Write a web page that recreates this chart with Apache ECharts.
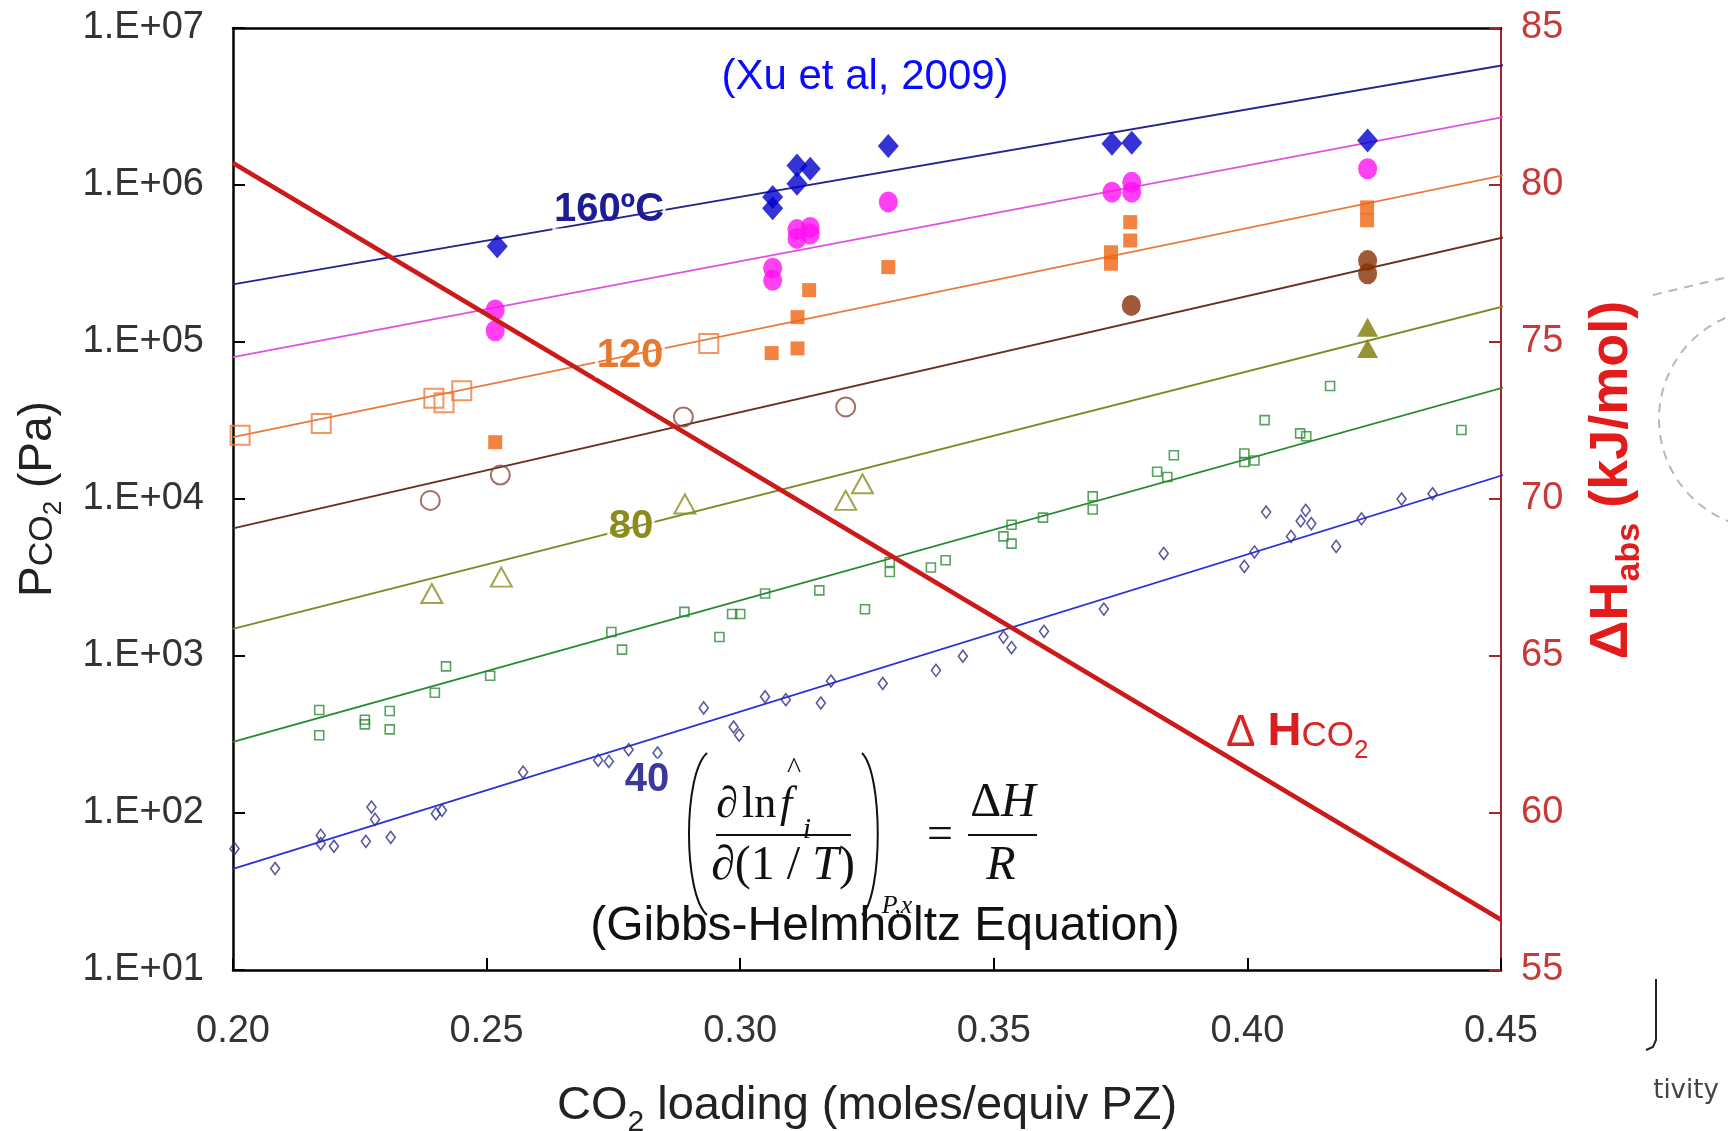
<!DOCTYPE html>
<html>
<head>
<meta charset="utf-8">
<script src="https://cdn.jsdelivr.net/npm/echarts@6/dist/echarts.min.js"></script>
<style>
  html, body { margin: 0; padding: 0; background: #ffffff; }
  #chart { width: 1728px; height: 1131px; }
</style>
</head>
<body>
<div id="chart"></div>
<script>
// ---- axis tick labels ----
const xTickLabels = ['0.20', '0.25', '0.30', '0.35', '0.40', '0.45'];
const pTickLabels = ['1.E+01', '1.E+02', '1.E+03', '1.E+04', '1.E+05', '1.E+06', '1.E+07'];
const dhTickLabels = ['55', '60', '65', '70', '75', '80', '85'];

// ---- fitted isotherms: P_CO2 (Pa) at the two ends of each line ----
const fitLoading = [0.20, 0.4525];
const fit160 = [2.33e5, 5.95e6];
const fit140 = [8.0e4, 2.79e6];
const fit120 = [2.48e4, 1.19e6];
const fit100 = [6.5e3, 4.8e5];
const fit80 = [1.49e3, 1.75e5];
const fit60 = [2.84e2, 5.35e4];
const fit40 = [44, 1.49e4];

// ---- heat of absorption (kJ/mol) ----
const dhLoading = [0.20, 0.45];
const dhValues = [80.7, 56.6];

// ---- measured points [loading, P_CO2 (Pa)] ----
const pts160 = [[0.2521, 4.08e5], [0.3064, 8.4e5], [0.3064, 7.1e5], [0.3112, 1.02e6], [0.3112, 1.33e6],
  [0.3138, 1.27e6], [0.3292, 1.77e6], [0.3733, 1.83e6], [0.3772, 1.86e6], [0.4237, 1.92e6]];
const pts140 = [[0.2517, 1.6e5], [0.2517, 1.18e5], [0.3064, 2.95e5], [0.3064, 2.47e5], [0.3112, 4.57e5],
  [0.3112, 5.2e5], [0.3138, 5.37e5], [0.3138, 4.88e5], [0.3292, 7.8e5], [0.3733, 9.0e5],
  [0.3772, 1.04e6], [0.3772, 9.0e5], [0.4237, 1.27e6]];
const pts120open = [[0.2014, 2.55e4], [0.2174, 3.03e4], [0.2396, 4.39e4], [0.2416, 4.1e4],
  [0.2451, 4.9e4], [0.2938, 9.8e4]];
const pts120 = [[0.2517, 2.3e4], [0.3062, 8.5e4], [0.3113, 9.1e4], [0.3113, 1.44e5], [0.3136, 2.14e5],
  [0.3292, 3.0e5], [0.3731, 3.15e5], [0.3731, 3.73e5], [0.3769, 4.43e5], [0.3769, 5.8e5],
  [0.4236, 5.96e5], [0.4236, 7.2e5]];
const pts100open = [[0.2389, 9.8e3], [0.2527, 1.42e4], [0.2888, 3.33e4], [0.3208, 3.86e4]];
const pts100 = [[0.3771, 1.71e5], [0.4237, 3.3e5], [0.4237, 2.72e5]];
const pts80open = [[0.2392, 2.5e3], [0.2529, 3.18e3], [0.2891, 9.3e3], [0.3208, 9.8e3], [0.3241, 1.25e4]];
const pts80 = [[0.4237, 1.24e5], [0.4237, 9.1e4]];
const pts60 = [[0.2170, 453], [0.2170, 313], [0.2260, 393], [0.2260, 367], [0.2309, 446], [0.2309, 341],
  [0.2398, 583], [0.2420, 859], [0.2507, 748], [0.2746, 1422], [0.2767, 1098], [0.2890, 1910],
  [0.2959, 1320], [0.2984, 1850], [0.3000, 1850], [0.3049, 2500], [0.3156, 2620], [0.3246, 1985],
  [0.3295, 3970], [0.3295, 3430], [0.3376, 3660], [0.3405, 4070], [0.3519, 5780], [0.3535, 5200],
  [0.3535, 6860], [0.3597, 7610], [0.3695, 1.04e4], [0.3695, 8570], [0.3822, 1.49e4], [0.3842, 1.38e4],
  [0.3855, 1.9e4], [0.3994, 1.95e4], [0.3994, 1.72e4], [0.4014, 1.76e4], [0.4034, 3.18e4],
  [0.4104, 2.62e4], [0.4116, 2.51e4], [0.4163, 5.24e4], [0.4422, 2.75e4]];
const pts40 = [[0.2003, 59.3], [0.2083, 44.3], [0.2173, 72], [0.2173, 63.8], [0.2199, 61.4], [0.2262, 66],
  [0.2273, 109], [0.2280, 91], [0.2311, 70], [0.2400, 99], [0.2412, 104], [0.2572, 182], [0.2720, 217],
  [0.2741, 213], [0.2780, 253], [0.2837, 241], [0.2928, 467], [0.2987, 353], [0.2998, 313], [0.3049, 550],
  [0.3090, 527], [0.3159, 502], [0.3179, 693], [0.3281, 668], [0.3386, 811], [0.3439, 996], [0.3519, 1320],
  [0.3535, 1130], [0.3599, 1435], [0.3717, 1990], [0.3835, 4500], [0.3994, 3720], [0.4014, 4600],
  [0.4037, 8260], [0.4086, 5780], [0.4105, 7240], [0.4115, 8470], [0.4126, 6970], [0.4175, 4990],
  [0.4225, 7480], [0.4304, 10000], [0.4365, 10800]];

const SANS = '"Liberation Sans", Arial, sans-serif';
const SERIF = '"Liberation Serif", "Times New Roman", serif';

function pairs(xs, ys) { return xs.map((x, i) => [x, ys[i]]); }

function fitLine(values, color) {
  return { type: 'line', data: pairs(fitLoading, values), symbol: 'none', clip: false, silent: true,
    lineStyle: { color: color, width: 1.8 }, z: 2 };
}

function points(data, symbol, size, color, hollowWidth) {
  return { type: 'scatter', data: data, symbol: symbol, symbolSize: size, silent: true, z: 3,
    itemStyle: hollowWidth
      ? { color: 'rgba(255,255,255,0)', borderColor: color, borderWidth: hollowWidth }
      : { color: color } };
}

// rich-text run; bottom padding lifts a run above the subscript baseline
function run(size, color, lift, extra) {
  return Object.assign({ fontSize: size, fontFamily: SANS, color: color, fill: color,
    verticalAlign: 'bottom', padding: [0, 0, lift, 0] }, extra || {});
}

const chart = echarts.init(document.getElementById('chart'), null, { renderer: 'canvas' });

const option = {
  backgroundColor: '#ffffff',
  animation: false,
  grid: { left: 233, right: 227, top: 28, bottom: 161, outerBoundsMode: 'none', containLabel: false },
  xAxis: [{
    type: 'value', min: 0.20, max: 0.45, interval: 0.05,
    axisLine: { show: true, onZero: false, lineStyle: { color: '#000', width: 2.5 } },
    axisTick: { show: true, inside: true, length: 12, lineStyle: { color: '#000', width: 2 } },
    splitLine: { show: false },
    axisLabel: { margin: 43, fontSize: 38, color: '#333', fontFamily: SANS,
      formatter: v => xTickLabels[Math.round((v - 0.20) / 0.05)] },
    name: '{a|CO}{s|2}{a| loading (moles/equiv PZ)}',
    nameLocation: 'middle', nameGap: 110,
    nameTextStyle: { fontFamily: SANS, color: '#222', lineHeight: 58,
      rich: {
        a: run(47, '#222', 8, { lineHeight: 58 }),
        s: run(30, '#222', 0, { lineHeight: 58 })
      } }
  }, {
    type: 'value', position: 'top', min: 0.20, max: 0.45, interval: 0.05,
    axisLine: { show: true, onZero: false, lineStyle: { color: '#000', width: 2.5 } },
    axisTick: { show: false }, axisLabel: { show: false }, splitLine: { show: false }
  }],
  yAxis: [{
    type: 'log', logBase: 10, min: 10, max: 1e7, splitNumber: 6,
    axisLine: { show: true, onZero: false, lineStyle: { color: '#000', width: 2.5 } },
    axisTick: { show: true, inside: true, length: 12, lineStyle: { color: '#000', width: 2 } },
    splitLine: { show: false },
    axisLabel: { margin: 29, fontSize: 38, color: '#333', fontFamily: SANS,
      formatter: v => pTickLabels[Math.round(Math.log10(v)) - 1] },
    name: '{p|P}{c|CO}{s|2}{p| (Pa)}',
    nameLocation: 'middle', nameGap: 161, nameRotate: 90,
    nameTextStyle: { fontFamily: SANS, color: '#222', lineHeight: 58,
      rich: {
        p: run(46, '#222', 10, { lineHeight: 58 }),
        c: run(34, '#222', 12, { lineHeight: 58 }),
        s: run(26, '#222', 5, { lineHeight: 58 })
      } }
  }, {
    type: 'value', position: 'right', min: 55, max: 85, interval: 5,
    axisLine: { show: true, onZero: false, lineStyle: { color: '#a0282a', width: 2 } },
    axisTick: { show: true, inside: true, length: 12, lineStyle: { color: '#a0282a', width: 2 } },
    splitLine: { show: false },
    axisLabel: { margin: 20, fontSize: 38, color: '#c83a3a', fontFamily: SANS,
      formatter: v => dhTickLabels[Math.round((v - 55) / 5)] },
    name: '{h|ΔH}{s|abs}{h| (kJ/mol)}',
    nameLocation: 'middle', nameGap: 82, nameRotate: 90,
    nameTextStyle: { fontFamily: SANS, color: '#e31b1b', lineHeight: 64, padding: [0, 0, 0, 38],
      rich: {
        h: run(54, '#e31b1b', 8, { lineHeight: 64, fontWeight: 'bold' }),
        s: run(34, '#e31b1b', 0, { lineHeight: 64, fontWeight: 'bold' })
      } }
  }],
  series: [
    fitLine(fit160, '#24248e'),
    fitLine(fit140, '#e050e0'),
    fitLine(fit120, '#ea7a3c'),
    fitLine(fit100, '#6a2e20'),
    fitLine(fit80, '#7c8a22'),
    fitLine(fit60, '#248a30'),
    fitLine(fit40, '#2a30d8'),

    points(pts160, 'diamond', [21, 24], '#0000cc'),
    points(pts140, 'circle', [19, 21], '#ff10f0'),
    points(pts120open, 'rect', 19, '#f07c3c', 2),
    points(pts120, 'rect', 14, '#f06410'),
    points(pts100open, 'circle', 19, '#8a4a3c', 2),
    points(pts100, 'circle', [19, 21], '#873004'),
    points(pts80open, 'triangle', [21, 19], '#8a8c22', 2),
    points(pts80, 'triangle', [21, 19], '#7a7a04'),
    points(pts60, 'rect', 9, '#2e8a36', 1.6),
    points(pts40, 'diamond', [9, 12], '#2e2e86', 1.6),

    { type: 'line', yAxisIndex: 1, data: pairs(dhLoading, dhValues), symbol: 'none', silent: true,
      lineStyle: { color: '#cc1a1a', width: 4.5 }, z: 6 }
  ]
};

chart.setOption(option);

// ---- annotations, equation and surrounding artwork ----
const labelStroke = { textBorderColor: 'rgba(255,255,255,0.85)', textBorderWidth: 3 };
function label(text, x, y, size, color, extra) {
  return { type: 'text', x: x, y: y, z: 20, silent: true,
    style: Object.assign({ text: text, fontSize: size, fontFamily: SANS, fill: color,
      align: 'center', verticalAlign: 'middle' }, extra || {}) };
}
function serif(text, x, y, size, italic, align) {
  return label(text, x, y, size, '#111', { fontFamily: SERIF, fontStyle: italic ? 'italic' : 'normal',
    align: align || 'center' });
}

const graphics = [
  label('(Xu et al, 2009)', 865, 77, 42, '#0a0aff'),
  label('160ºC', 609, 210, 40, '#1c1c96', Object.assign({ fontWeight: 'bold' }, labelStroke)),
  label('120', 630, 356, 40, '#e8782e', Object.assign({ fontWeight: 'bold' }, labelStroke)),
  label('80', 631, 527, 40, '#8c8c1c', Object.assign({ fontWeight: 'bold' }, labelStroke)),
  label('40', 647, 780, 40, '#3a3a98', Object.assign({ fontWeight: 'bold' }, labelStroke)),
  {
    type: 'text', x: 1226, y: 736, z: 20, silent: true,
    style: {
      text: '{d|Δ }{h|H}{c|CO}{s|2}', align: 'left', verticalAlign: 'middle', fill: '#dc2424', lineHeight: 56,
      rich: {
        d: run(44, '#dc2424', 8, { lineHeight: 56 }),
        h: run(47, '#d81e1e', 8, { lineHeight: 56, fontWeight: 'bold' }),
        c: run(35, '#dc2424', 10, { lineHeight: 56 }),
        s: run(26, '#dc2424', 0, { lineHeight: 56 })
      }
    }
  },

  // Gibbs-Helmholtz relation
  { type: 'bezierCurve', z: 20, silent: true,
    shape: { x1: 707, y1: 753, cpx1: 683, cpy1: 774, cpx2: 683, cpy2: 894, x2: 707, y2: 915 },
    style: { stroke: '#111', lineWidth: 2, fill: null } },
  { type: 'bezierCurve', z: 20, silent: true,
    shape: { x1: 862, y1: 753, cpx1: 883, cpy1: 774, cpx2: 883, cpy2: 894, x2: 862, y2: 915 },
    style: { stroke: '#111', lineWidth: 2, fill: null } },
  serif('∂', 716, 805, 44, false, 'left'),
  serif('ln', 742, 805, 44, false, 'left'),
  serif('f', 780, 805, 44, true, 'left'),
  serif('^', 794, 770, 30, false),
  serif('i', 807, 830, 30, true),
  { type: 'line', z: 20, silent: true, shape: { x1: 716, y1: 835, x2: 851, y2: 835 },
    style: { stroke: '#111', lineWidth: 2 } },
  { type: 'text', x: 783, y: 866, z: 20, silent: true,
    style: { text: '{u|∂(1 / }{i|T}{u|)}', align: 'center', verticalAlign: 'middle',
      rich: { u: { fontSize: 48, fontFamily: SERIF, fill: '#111' },
              i: { fontSize: 48, fontFamily: SERIF, fontStyle: 'italic', fill: '#111' } } } },
  serif('P,x', 897, 906, 26, true),
  serif('=', 940, 836, 46, false),
  { type: 'text', x: 1003, y: 803, z: 20, silent: true,
    style: { text: '{u|Δ}{i|H}', align: 'center', verticalAlign: 'middle',
      rich: { u: { fontSize: 48, fontFamily: SERIF, fill: '#111' },
              i: { fontSize: 48, fontFamily: SERIF, fontStyle: 'italic', fill: '#111' } } } },
  { type: 'line', z: 20, silent: true, shape: { x1: 968, y1: 835, x2: 1037, y2: 835 },
    style: { stroke: '#111', lineWidth: 2 } },
  serif('R', 1001, 866, 48, true),
  label('(Gibbs-Helmholtz Equation)', 885, 927, 48, '#111'),

  // slide artwork beside the chart
  { type: 'circle', z: 1, silent: true, shape: { cx: 1769, cy: 419, r: 110 },
    style: { stroke: '#b8b8b8', lineWidth: 2, lineDash: [9, 7], fill: null } },
  { type: 'line', z: 1, silent: true, shape: { x1: 1653, y1: 295, x2: 1728, y2: 277 },
    style: { stroke: '#b8b8b8', lineWidth: 2, lineDash: [9, 7] } },
  { type: 'polyline', z: 1, silent: true,
    shape: { points: [[1656, 979], [1656, 1040], [1653, 1047], [1646, 1050]] },
    style: { stroke: '#222', lineWidth: 2, fill: null } },
  label('tivity', 1686, 1091, 26, '#444', { fontFamily: '"DejaVu Sans", sans-serif' })
];

chart.setOption({ graphic: graphics });
</script>
</body>
</html>
